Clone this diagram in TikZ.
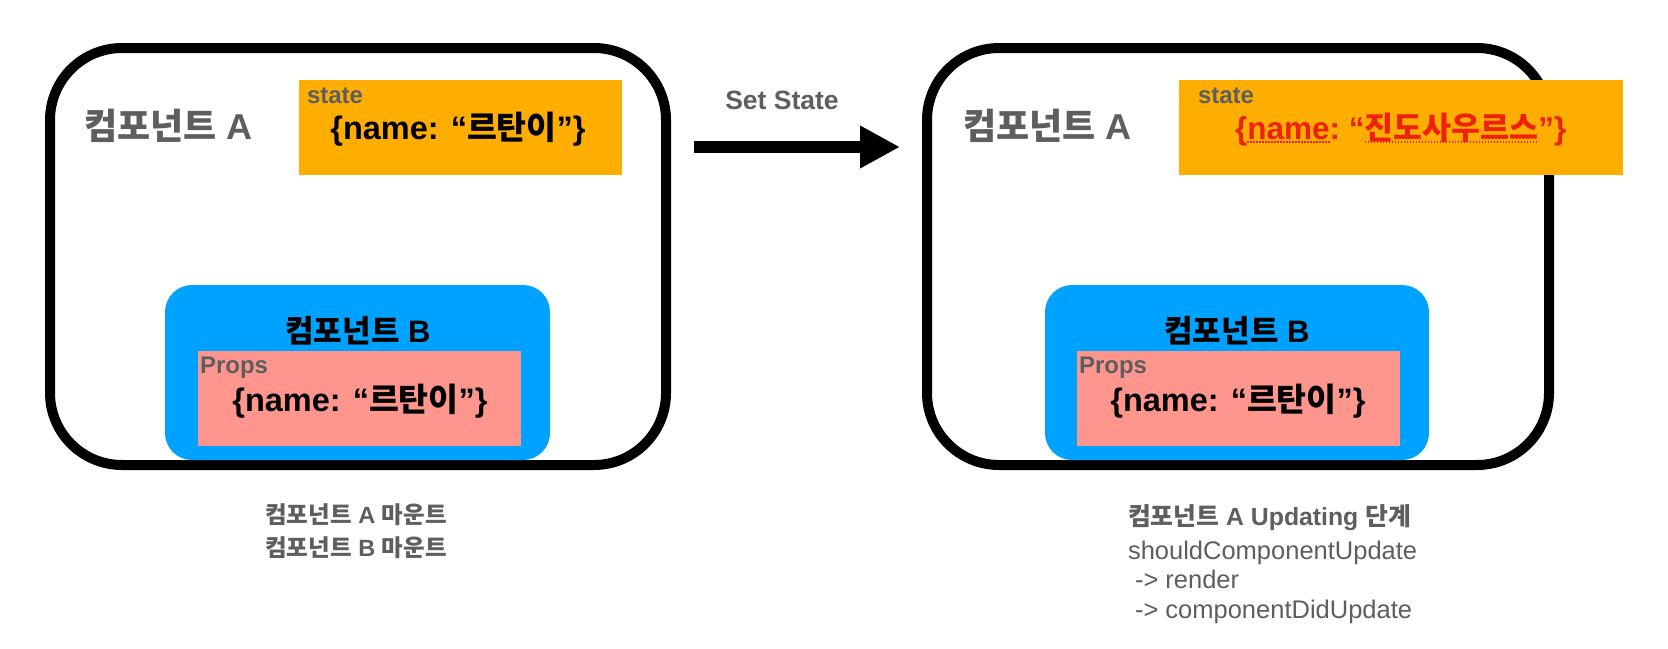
\documentclass[tikz,border=0pt]{standalone}
\usepackage{fontspec}
\setmainfont{Liberation Sans}
\newfontfamily\kr{Noto Sans CJK KR}
\usetikzlibrary{arrows.meta}
\definecolor{txtgrey}{RGB}{94,94,94}
\definecolor{stateorange}{RGB}{254,174,0}
\definecolor{compblue}{RGB}{0,162,255}
\definecolor{propspink}{RGB}{255,150,141}
\definecolor{errred}{RGB}{238,34,12}
\begin{document}
\begin{tikzpicture}[x=1pt,y=-1pt,
  outerbox/.style={draw=black, line width=10pt, rounded corners=72pt, inner sep=0pt, fill=white},
  statebox/.style={fill=stateorange, inner sep=0pt},
  bbox/.style={fill=compblue, rounded corners=27pt, inner sep=0pt},
  propbox/.style={fill=propspink, inner sep=0pt},
  tx/.style={inner sep=0pt, outer sep=0pt},
  lbl/.style={tx, text=txtgrey, font=\bfseries\fontsize{24pt}{29pt}\selectfont},
  arrlbl/.style={tx, text=txtgrey, font=\bfseries\fontsize{26.5pt}{32pt}\selectfont},
  titleA/.style={tx, text=txtgrey, font=\bfseries\fontsize{36pt}{43pt}\selectfont},
  titleB/.style={tx, text=black, font=\bfseries\fontsize{31pt}{37pt}\selectfont},
  nametxt/.style={tx, text=black, font=\bfseries\fontsize{32.5pt}{39pt}\selectfont},
  redtxt/.style={tx, text=errred, font=\bfseries\fontsize{31.5pt}{38pt}\selectfont},
  dotul/.style={draw=errred, line width=1.4pt, dash pattern=on 1.4pt off 1.6pt},
  mtxt/.style={tx, text=txtgrey, font=\bfseries\fontsize{23.5pt}{28pt}\selectfont},
  bodytxt/.style={tx, text=txtgrey, font=\fontsize{25.5pt}{31pt}\selectfont},
  bigarrow/.style={line width=12pt, -{Triangle[length=40pt, width=40pt]}}
]
\useasboundingbox (0,0) rectangle (1668,648);

% ---------- left side ----------
\node[outerbox, minimum width=616pt, minimum height=417pt] (oa) at (358,256.5) {};
\node[statebox, minimum width=323pt, minimum height=95pt] (sa) at (460.5,127.5) {};
\node[lbl, anchor=base west] (sla) at (307,103) {state};
\node[nametxt, anchor=base] (na) at (458,139) {\{name: “{\kr 르탄이}”\}};
\node[titleA, anchor=base west] (ta) at (84,139) {{\kr 컴포넌트} A};
\node[bbox, minimum width=385pt, minimum height=175pt] (ba) at (357.5,372.5) {};
\node[titleB, anchor=base] (tba) at (358,342) {{\kr 컴포넌트} B};
\node[propbox, minimum width=323pt, minimum height=95pt] (pa) at (359.5,398.5) {};
\node[lbl, anchor=base west] (pla) at (200,373) {Props};
\node[nametxt, anchor=base] (pna) at (360,411) {\{name: “{\kr 르탄이}”\}};
\node[mtxt, anchor=base] (m1) at (356,523) {{\kr 컴포넌트} A {\kr 마운트}};
\node[mtxt, anchor=base] (m2) at (356,556) {{\kr 컴포넌트} B {\kr 마운트}};

% ---------- arrow ----------
\coordinate (as) at (694,147);
\coordinate (ae) at (900,147);
\draw[bigarrow] (as) -- (ae);
\node[arrlbl, anchor=base] (setst) at (782,109) {Set State};

% ---------- right side ----------
\node[outerbox, minimum width=622pt, minimum height=417pt] (ob) at (1238,256.5) {};
\node[statebox, minimum width=444pt, minimum height=95pt] (sb) at (1401,127.5) {};
\node[lbl, anchor=base west] (slb) at (1198,103) {state};
\node[redtxt, anchor=base west] (r1) at (1235,139) {\{};
\node[redtxt, anchor=base west] (r2) at (r1.base east) {name};
\node[redtxt, anchor=base west] (r3) at (r2.base east) {:\ “};
\node[redtxt, anchor=base west] (r4) at (r3.base east) {\kr 진도사우르스};
\node[redtxt, anchor=base west] (r5) at (r4.base east) {”\}};
\draw[dotul] ([yshift=-3pt]r2.base west) -- ([yshift=-3pt]r2.base east);
\draw[dotul] ([yshift=-3pt]r4.base west) -- ([yshift=-3pt]r4.base east);
\node[titleA, anchor=base west] (tb) at (963,139) {{\kr 컴포넌트} A};
\node[bbox, minimum width=384pt, minimum height=175pt] (bb) at (1237,372.5) {};
\node[titleB, anchor=base] (tbb) at (1237,342) {{\kr 컴포넌트} B};
\node[propbox, minimum width=323pt, minimum height=95pt] (pb) at (1238.5,398.5) {};
\node[lbl, anchor=base west] (plb) at (1079,373) {Props};
\node[nametxt, anchor=base] (pnb) at (1238,411) {\{name: “{\kr 르탄이}”\}};

\node[bodytxt, font=\bfseries\fontsize{24.8pt}{29pt}\selectfont, anchor=base west] (u1) at (1128,525) {{\kr 컴포넌트} A Updating {\kr 단계}};
\node[bodytxt, anchor=base west] (u2) at (1128,559) {shouldComponentUpdate};
\node[bodytxt, anchor=base west] (u3) at (1128,588) {\hspace*{7pt}-> render};
\node[bodytxt, anchor=base west] (u4) at (1128,618) {\hspace*{7pt}-> componentDidUpdate};
\end{tikzpicture}
\end{document}
